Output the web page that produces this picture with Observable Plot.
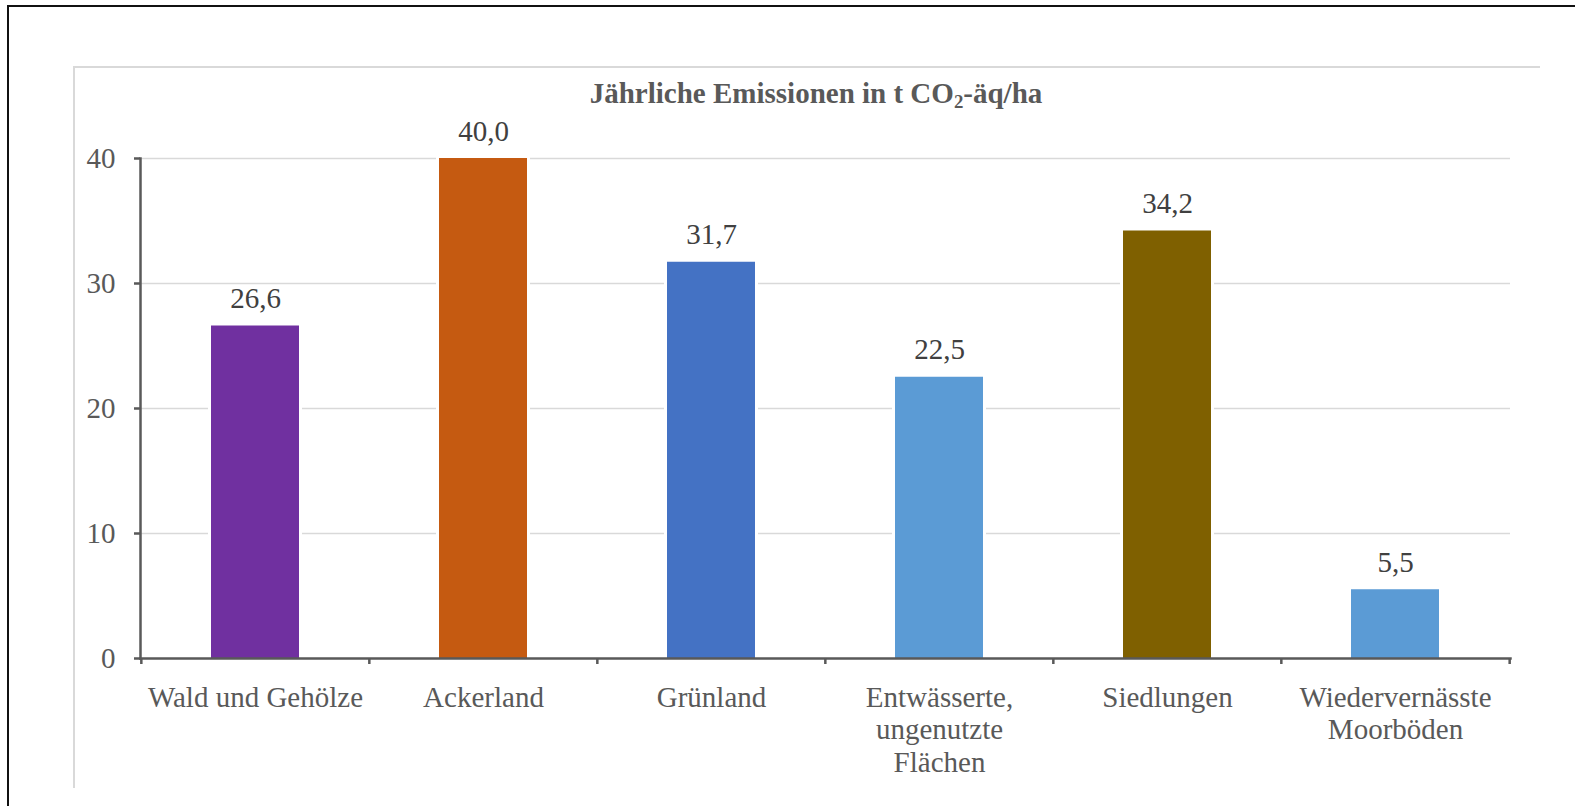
<!DOCTYPE html>
<html><head><meta charset="utf-8">
<script src="https://cdn.jsdelivr.net/npm/d3@7"></script>
<script src="https://cdn.jsdelivr.net/npm/@observablehq/plot@0.6"></script>
<style>
body{margin:0;background:#fff;}
#wrap{position:relative;width:1575px;height:806px;overflow:hidden;font-family:"Liberation Serif","Times New Roman",serif;background:#fff;}
#wrap svg{position:absolute;left:0;top:0;}
.ln{position:absolute;}
#title{position:absolute;left:316px;width:1000px;top:79px;text-align:center;font-size:29px;line-height:29px;font-weight:bold;color:#595959;}
#title sub{font-size:0.65em;vertical-align:-0.25em;line-height:0;}
</style></head><body>
<div id="wrap">
  <div id="chart"></div>
  <div class="ln" style="left:73px;top:66px;width:1467px;height:1.5px;background:#d9d9d9"></div>
  <div class="ln" style="left:73px;top:66px;width:1.5px;height:722px;background:#d9d9d9"></div>
  <div class="ln" style="left:7px;top:5px;width:1568px;height:2px;background:#111"></div>
  <div class="ln" style="left:7px;top:5px;width:2px;height:801px;background:#111"></div>
  <div id="title">Jährliche Emissionen in t CO<sub>2</sub>-äq/ha</div>
</div>
<script>
const categories = ["Wald und Gehölze", "Ackerland", "Grünland", "Entwässerte, ungenutzte Flächen", "Siedlungen", "Wiedervernässte Moorböden"];
const xLabels = ["Wald und Gehölze", "Ackerland", "Grünland", "Entwässerte,\nungenutzte\nFlächen", "Siedlungen", "Wiedervernässte\nMoorböden"];
const values = [26.6, 40.0, 31.7, 22.5, 34.2, 5.5];
const colors = ["#7030A0", "#C55A11", "#4472C4", "#5B9BD5", "#7F6000", "#5B9BD5"];
const yTicks = [0, 10, 20, 30, 40];

const data = categories.map((c, i) => ({cat: c, value: values[i], color: colors[i]}));
const fmt = v => v.toFixed(1).replace(".", ",");

const W = 1575, H = 806, mL = 140, mR = 65, mT = 158, mB = 148;
const step = (W - mL - mR) / categories.length;

const plot = Plot.plot({
  width: W, height: H,
  marginLeft: mL, marginRight: mR, marginTop: mT, marginBottom: mB,
  style: {fontFamily: "'Liberation Serif', 'Times New Roman', serif", color: "#595959", background: "transparent"},
  x: {domain: categories, paddingInner: 0.614, paddingOuter: 0.307, axis: null},
  y: {domain: [0, 40], axis: null},
  marks: [
    Plot.gridY(yTicks.filter(t => t > 0), {stroke: "#d9d9d9", strokeOpacity: 1, strokeWidth: 1.5}),
    Plot.barY(data, {x: "cat", y: "value", fill: "white", stroke: "white", strokeWidth: 6}),
    Plot.barY(data, {x: "cat", y: "value", fill: "color"}),
    Plot.frame({anchor: "left", stroke: "#595959", strokeWidth: 2.5}),
    Plot.frame({anchor: "bottom", stroke: "#595959", strokeWidth: 2.5}),
    Plot.axisY(yTicks, {tickSize: 6, tickPadding: 19, fontSize: 29, stroke: "#595959", strokeWidth: 2.5, fill: "#595959", label: null}),
    Plot.axisX(categories, {tickSize: 6, tickFormat: () => "", dx: -step / 2, stroke: "#595959", strokeWidth: 2.5, label: null}),
    Plot.axisX([categories[categories.length - 1]], {tickSize: 6, tickFormat: () => "", dx: step / 2, stroke: "#595959", strokeWidth: 2.5, label: null}),
    Plot.axisX(categories, {tickSize: 0, tickPadding: 25, fontSize: 29, lineHeight: 1.12, fill: "#595959", tickFormat: c => xLabels[categories.indexOf(c)], label: null}),
    Plot.text(data, {x: "cat", y: "value", text: d => fmt(d.value), lineAnchor: "bottom", dy: -18, fontSize: 29, fill: "#404040"})
  ]
});
document.getElementById("chart").appendChild(plot);
</script>
</body></html>
